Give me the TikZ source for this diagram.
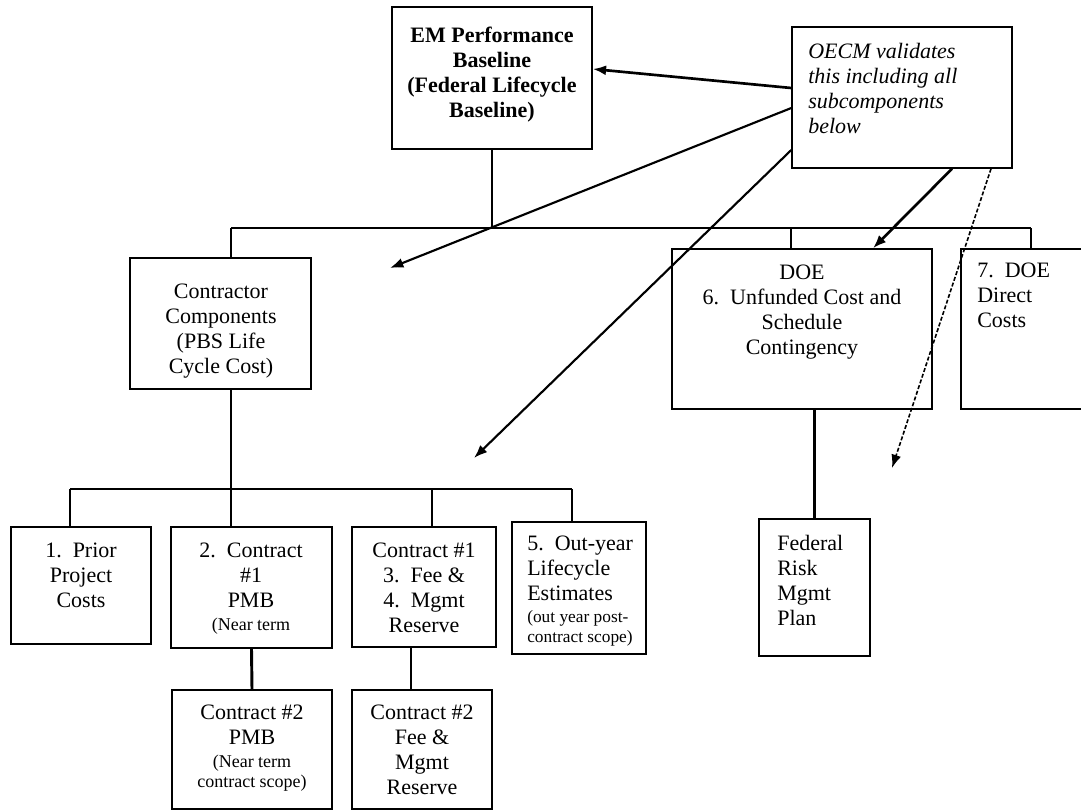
\documentclass[tikz,border=0pt]{standalone}
\usepackage{fontspec}
\setmainfont{Liberation Serif}
\usetikzlibrary{arrows.meta,fit,positioning}

\begin{document}
\begin{tikzpicture}[
    x=0.75pt, y=-0.75pt,
    >={Latex[length=10pt,width=7.5pt]},
    blk/.style={draw=black, line width=1.1pt, inner sep=0pt},
    txt/.style={inner sep=0pt, align=center, font=\fontsize{16.5}{18.75}\selectfont},
    tree/.style={draw=black, line width=1pt},
    stem/.style={draw=black, line width=2.2pt},
    arr/.style={->, draw=black, line width=1.6pt},
  ]
  \useasboundingbox (0,0) rectangle (1081,811);

  % --- boxes ---
  \node[blk, fit={(392,7) (592,149)}] (em) {};
  \node[blk, fit={(792,27) (1012,168)}] (oecm) {};
  \node[blk, fit={(130,258) (311,389)}] (con) {};
  \node[blk, fit={(672,249) (932,409)}] (doe6) {};
  \node[blk, fit={(961,249) (1100,409)}] (doe7) {};
  \node[blk, fit={(759,519) (870,656)}] (fed) {};
  \node[blk, fit={(11,527) (151,644)}] (c1) {};
  \node[blk, fit={(171,527) (332,648)}] (c2) {};
  \node[blk, fit={(352,527) (496,647)}] (c3) {};
  \node[blk, fit={(512,522) (646,654)}] (c5) {};
  \node[blk, fit={(172,690) (332,809)}] (c2b) {};
  \node[blk, fit={(352,690) (492,809)}] (c3b) {};

  % --- box texts ---
  \node[txt, font=\fontsize{16.5}{18.75}\selectfont\bfseries, anchor=north] (em-t) at (492,27)
    {EM Performance\\Baseline\\(Federal Lifecycle\\Baseline)};
  \node[txt, align=left, font=\fontsize{16.5}{18.75}\selectfont\itshape, anchor=north west] (oecm-t) at (808,43)
    {OECM validates\\this including all\\subcomponents\\below};
  \node[txt, anchor=north] (con-t) at (221,284) {Contractor\\Components\\(PBS Life\\Cycle Cost)};
  \node[txt, anchor=north] (doe6-t) at (802,265) {DOE\\6.\ \ Unfunded Cost and\\Schedule\\Contingency};
  \node[txt, align=left, anchor=north west] (doe7-t) at (977,263) {7.\ \ DOE\\Direct\\Costs};
  \node[txt, align=left, anchor=north west] (fed-t) at (777,535) {Federal\\Risk\\Mgmt\\Plan};
  \node[txt, anchor=north] (c1-t) at (81,543) {1.\ \ Prior\\Project\\Costs};
  \node[txt, anchor=north] (c2-t) at (251,543)
    {2.\ \ Contract\\\#1\\PMB\\[-1.5pt]{\fontsize{13.5}{15}\selectfont (Near term}};
  \node[txt, anchor=north] (c3-t) at (424,543) {Contract \#1\\3.\ \ Fee \&\\4.\ \ Mgmt\\Reserve};
  \node[txt, align=left, anchor=north west] (c5-t) at (527,536)
    {5.\ \ Out-year\\Lifecycle\\Estimates\\[-2.5pt]{\fontsize{13}{15}\selectfont (out year post-}\\[-3.5pt]{\fontsize{13}{15}\selectfont contract scope)}};
  \node[txt, anchor=north] (c2b-t) at (252,705)
    {Contract \#2\\PMB\\[-1.5pt]{\fontsize{13.5}{15}\selectfont (Near term}\\[-3.75pt]{\fontsize{13.5}{15}\selectfont contract scope)}};
  \node[txt, anchor=north] (c3b-t) at (422,705) {Contract \#2\\Fee \&\\Mgmt\\Reserve};

  % --- tree lines ---
  \coordinate (b1L) at (231,228);
  \coordinate (b1R) at (1031,228);
  \coordinate (j6) at (791,228);
  \coordinate (b2L) at (70,489);
  \coordinate (b2R) at (572,489);
  \coordinate (j3) at (432,489);
  \coordinate (j3b) at (411,668);

  \draw[tree] (em.south) -- (em.south |- b1L);
  \draw[tree] (b1L) -- (b1R);
  \draw[tree] (b1L) -- (b1L |- con.north);
  \draw[tree, line width=1.5pt] (j6) -- (j6 |- doe6.north);
  \draw[tree] (b1R) -- (b1R |- doe7.north);

  \draw[tree, line width=1.3pt] (b2L) -- (b2R);
  \draw[stem] (b1L |- con.south) -- (b1L |- c2.north);
  \draw[stem] (b2L) -- (b2L |- c1.north);
  \draw[stem] (j3) -- (j3 |- c3.north);
  \draw[stem] (b2R) -- (b2R |- c5.north);
  \draw[stem] (c2.south) -- (c2b.north);
  \draw[stem] (c3.south -| j3b) -- (c3b.north -| j3b);
  \draw[stem] (doe6.south -| fed.north) -- (fed.north);

  % --- OECM arrows ---
  \coordinate (t2) at (390,268);
  \coordinate (t3) at (474,458);
  \coordinate (t5) at (892,468);
  \draw[arr, line width=2pt] (oecm.west |- 0,88) -- (em.east |- 0,69);
  \draw[arr] (oecm.west |- 0,108) -- (t2);
  \draw[arr] (oecm.west |- 0,150) -- (t3);
  \draw[arr, line width=2pt] (oecm.south -| 952,0) -- (doe6.north -| 873,0);
  \draw[arr, line width=1.2pt, dash pattern=on 3pt off 1.5pt] (oecm.south -| 991,0) -- (t5);

\end{tikzpicture}
\end{document}
